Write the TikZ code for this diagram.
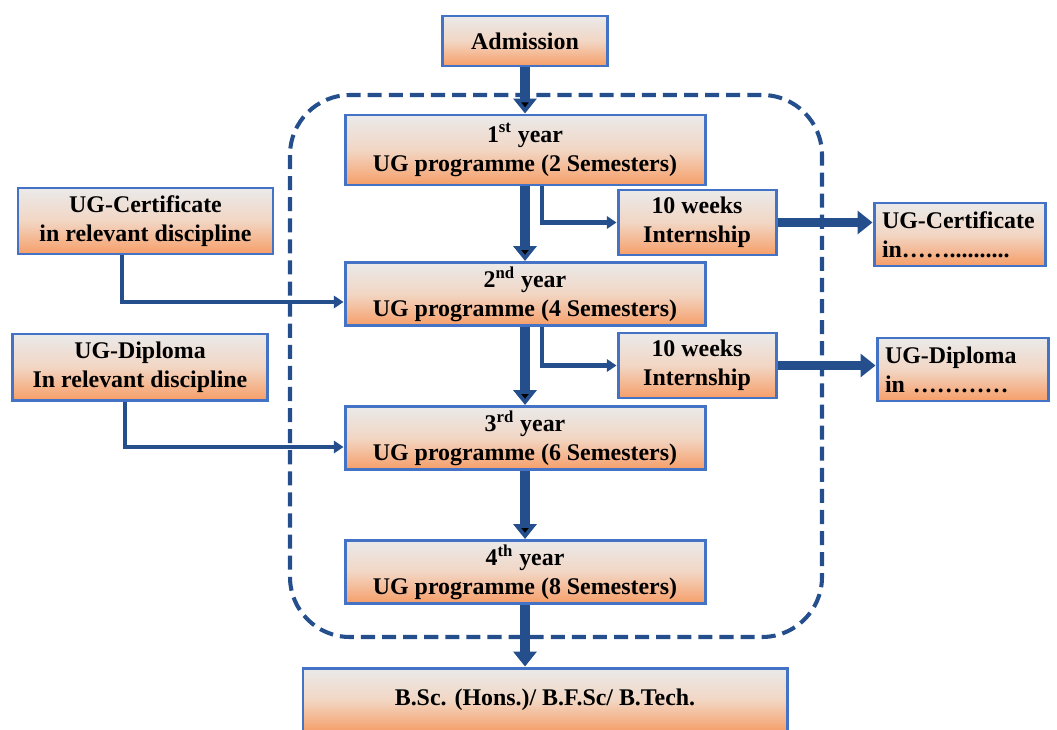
\documentclass[tikz,border=0pt]{standalone}
\usepackage{fontspec}
\setmainfont{Liberation Serif}
\usetikzlibrary{positioning,arrows.meta}
\definecolor{boxblue}{RGB}{68,114,196}
\definecolor{arrowblue}{RGB}{36,78,140}
\definecolor{boxtop}{RGB}{234,234,234}
\definecolor{boxmid}{RGB}{242,214,196}
\definecolor{boxbot}{RGB}{246,158,104}

\begin{document}
\begin{tikzpicture}[on grid,node distance=2.88cm,
    box/.style={draw=boxblue,line width=1.7pt,top color=boxtop,bottom color=boxbot,middle color=boxmid,
        font=\fontsize{13.6}{16.5}\selectfont\bfseries,align=center,inner sep=2pt},
    ybox/.style={box,minimum width=7.2cm,minimum height=1.26cm},
    ibox/.style={box,minimum width=3.16cm,minimum height=1.3cm},
    lbox/.style={box,minimum width=5.1cm,minimum height=1.32cm},
    obox/.style={box,text width=3.1cm,align=left,inner sep=0.16cm,minimum height=1.26cm},
    mainarrow/.style={draw=arrowblue,line width=5.6pt,-{Triangle[width=13pt,length=8.5pt]}},
    thinarrow/.style={draw=arrowblue,line width=2.3pt,-{Triangle[width=7pt,length=5.5pt]}},
    frame/.style={draw=arrowblue,line width=2.3pt,dash pattern=on 8pt off 4pt,rounded corners=1.2cm}]%[x=0.02cm per px]
    \useasboundingbox (0,0) rectangle (21.14,-14.58);
    \clip (0,0) rectangle (21.14,-14.58);
    \draw[frame] (5.8,-1.9) rectangle (16.44,-12.74);

    \node[ybox,minimum height=1.4cm] (y1) at (10.5,-3.0) {1\textsuperscript{st} year\\UG programme (2 Semesters)};
    \node[ybox, below=of y1] (y2) {2\textsuperscript{nd} year\\UG programme (4 Semesters)};
    \node[ybox, below=of y2] (y3) {3\textsuperscript{rd} year\\UG programme (6 Semesters)};
    \node[ybox, below=2.68cm of y3] (y4) {4\textsuperscript{th} year\\UG programme (8 Semesters)};
    \node[box, above=2.18cm of y1, minimum width=3.3cm, minimum height=1.0cm] (adm) {Admission};
    \node[box, below=2.56cm of y4, xshift=0.4cm, minimum width=9.68cm, minimum height=1.28cm] (deg) {B.Sc. (Hons.)/ B.F.Sc/ B.Tech.};

    \node[ibox, below right=1.45cm and 3.44cm of y1] (i1) {10 weeks\\Internship};
    \node[ibox, below right=1.43cm and 3.44cm of y2] (i2) {10 weeks\\Internship};
    \node[obox, below right=0.24cm and 5.25cm of i1] (oc) {UG-Certificate\\in……..........};
    \node[obox, below right=0.08cm and 5.31cm of i2] (od) {UG-Diploma\\in …………};
    \node[lbox, above left=1.46cm and 7.59cm of y2] (lc) {UG-Certificate\\in relevant discipline};
    \node[lbox, above left=1.42cm and 7.7cm of y3] (ld) {UG-Diploma\\In relevant discipline};

    \path[mainarrow]
            (adm) edge (y1)
            (y1) edge (y2)
            (y2) edge (y3)
            (y3) edge (y4);
    \draw[mainarrow] (y4.south) -- (y4.south |- deg.north);
    \draw[mainarrow] (i1.east) -- (i1.east -| oc.west);
    \draw[mainarrow] (i2.east) -- (i2.east -| od.west);
    \draw[thinarrow] ([xshift=0.34cm]y1.south) |- (i1.west);
    \draw[thinarrow] ([xshift=0.34cm]y2.south) |- (i2.west);
    \draw[thinarrow] ([xshift=-0.47cm]lc.south) |- ([yshift=-0.16cm]y2.west);
    \draw[thinarrow] ([xshift=-0.3cm]ld.south) |- ([yshift=-0.18cm]y3.west);
\end{tikzpicture}
\end{document}
